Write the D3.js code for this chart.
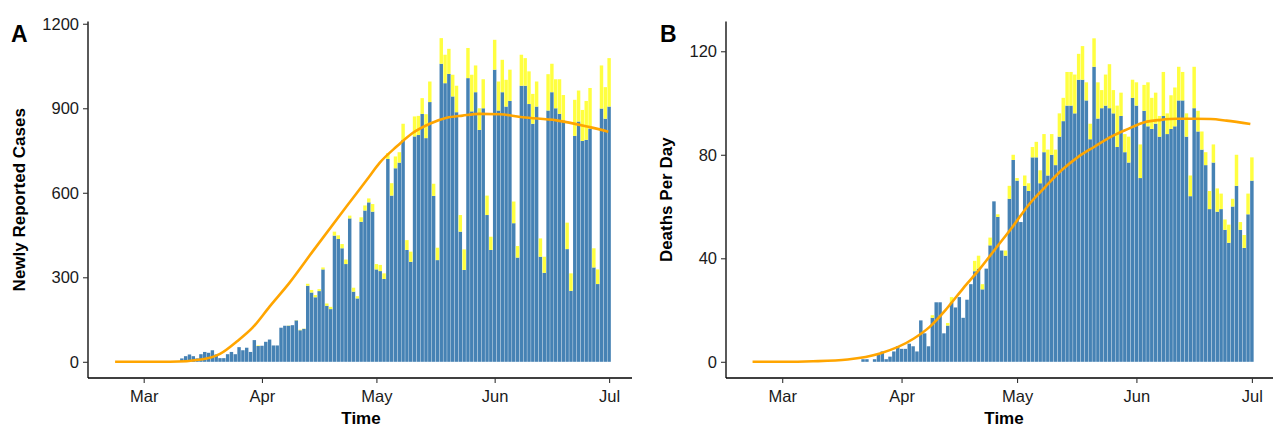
<!DOCTYPE html>
<html><head><meta charset="utf-8">
<script src="https://cdn.jsdelivr.net/npm/d3@7"></script>
<style>
body{margin:0;background:#fff}
svg{display:block}
text{font-family:"Liberation Sans",Arial,Helvetica,sans-serif}
</style>
</head><body>
<svg id="chart" width="1274" height="428"></svg>
<script>
// ---------- DATA ----------
// Panel A: newly reported cases, one bar per day starting 2020-03-11
const casesStart = "2020-03-11";
const casesReported = [
  12,20,26,20,12,27,35,32,41,26,13,13,27,35,27,52,41,50,35,77,56,57,71,79,58,58,
  121,128,128,130,147,112,117,270,246,229,251,328,199,187,448,436,403,347,509,249,225,497,537,566,533,328,322,294,
  720,590,687,707,788,397,355,800,805,880,794,922,589,361,1058,989,1022,942,886,462,326,1007,889,957,823,900,521,
  397,1037,892,957,906,926,492,370,980,980,915,845,906,373,316,892,957,900,880,857,400,252,802,853,784,788,828,335,276,899,863,906
];
const casesPending = [
  0,0,0,0,0,0,0,0,0,0,0,0,0,0,0,0,0,0,0,0,2,0,0,0,0,0,
  0,0,1,0,1,2,1,7,9,8,7,7,8,8,14,13,15,16,10,14,8,16,18,14,27,19,22,20,
  21,44,42,37,57,35,36,71,68,56,85,73,43,44,91,101,89,77,94,59,73,107,130,95,77,103,69,
  47,106,103,115,95,111,77,41,110,98,116,106,89,65,57,129,101,103,123,90,94,62,128,110,110,138,144,68,52,153,112,172
];
// smoothed trend (day offset from 2020-03-01, value)
const casesTrendDay   = [-7.5, 0, 6.9, 15.5, 20.0, 24.4, 28.6, 33.0, 38.3, 44.3, 53.2, 58.5, 61.9, 66.3, 70.5, 75.0, 79.4, 83.6, 88.1, 93.3, 99.3, 108.2, 116.9, 121.8];
const casesTrendValue = [0, 0, 0, 9, 28, 72, 122, 196, 282, 392, 552, 646, 707, 764, 812, 845, 866, 874, 880, 879, 868, 857, 833, 817];
const casesTicks = [0, 300, 600, 900, 1200];

// Panel B: deaths per day, one bar per day starting 2020-03-22
const deathsStart = "2020-03-22";
const deathsReported = [
  1,1,0,1,3,4,1,2,4,6,5,5,7,6,4,16,11,6,17,23,23,11,
  14,23,21,25,17,24,30,35,36,28,36,45,62,56,43,41,63,78,70,54,68,66,79,79,69,81,
  72,80,76,87,93,99,99,96,109,109,101,86,114,94,98,99,98,96,83,95,81,77,102,99,71,
  97,91,90,92,87,95,88,90,91,101,101,87,64,98,89,82,76,59,77,58,59,51,46,60,68,51,44,57,70
];
const deathsPending = [
  0,0,0,0,0,0,0,0,0,0,0,0,0,0,0,0,0,0,1,0,0,0,
  1,2,0,0,0,0,0,4,5,2,0,3,0,1,0,2,5,2,1,0,4,3,4,6,5,7,
  10,8,6,9,9,13,13,15,10,13,7,6,11,14,7,12,17,9,16,9,7,10,7,9,13,
  10,17,12,12,8,17,8,13,15,13,11,9,8,16,8,7,5,7,7,9,6,4,7,3,12,3,5,8,9
];
const deathsTrendDay   = [-7.7, 0, 8, 17.0, 25.4, 34.2, 38.3, 42.7, 47.0, 51.1, 55.5, 59.9, 64.0, 68.4, 72.7, 76.8, 81.2, 85.6, 89.7, 94.1, 98.4, 102.5, 106.9, 111.3, 115.4, 121.6];
const deathsTrendValue = [0, 0, 0.2, 0.9, 3.2, 9, 13.5, 20.5, 28.4, 35.5, 43.9, 52.3, 60.6, 67.7, 74.2, 79.1, 83.2, 87.1, 89.9, 92.6, 93.5, 93.9, 93.9, 93.8, 93.2, 91.9];
const deathsTicks = [0, 40, 80, 120];

// ---------- DRAW ----------
const svg = d3.select("#chart");
const DAY = 864e5;
const origin = Date.UTC(2020, 2, 1);
const toDate = d => new Date(origin + d * DAY);
const xDomain = [toDate(-14.6), toDate(128)];
const plotTop = 21.5, plotBottom = 378;
const blue = "#4682B4", yellow = "#FFFF40", orange = "#FFA500";

function panel(o) {
  const g = svg.append("g");
  const x = d3.scaleUtc().domain(xDomain).range([o.left, o.right]);
  const y = d3.scaleLinear().domain(o.yDomain).range([plotBottom, plotTop]);
  const start = new Date(o.start + "T00:00:00Z").getTime();
  const rows = o.reported.map((v, i) => ({
    date: new Date(start + i * DAY), blue: v, yellow: o.pending[i]
  }));
  const bw = (x(toDate(1)) - x(toDate(0))) * 0.9;

  g.append("g").selectAll("rect").data(rows).join("rect")
    .attr("x", d => x(d.date) - bw / 2).attr("width", bw)
    .attr("y", d => y(d.blue)).attr("height", d => y(0) - y(d.blue))
    .attr("fill", blue);
  g.append("g").selectAll("rect").data(rows.filter(d => d.yellow > 0)).join("rect")
    .attr("x", d => x(d.date) - bw / 2).attr("width", bw)
    .attr("y", d => y(d.blue + d.yellow)).attr("height", d => y(d.blue) - y(d.blue + d.yellow))
    .attr("fill", yellow);

  const trend = o.trendDay.map((d, i) => [toDate(d), o.trendValue[i]]);
  g.append("path").datum(trend)
    .attr("d", d3.line().x(d => x(d[0])).y(d => y(d[1])).curve(d3.curveMonotoneX))
    .attr("fill", "none").attr("stroke", orange).attr("stroke-width", 2.6);

  // axes
  const ya = g.append("g").attr("transform", `translate(${o.left},0)`)
    .call(d3.axisLeft(y).tickValues(o.ticks).tickSize(5).tickPadding(4).tickFormat(d3.format("d")));
  const xa = g.append("g").attr("transform", `translate(0,${plotBottom})`)
    .call(d3.axisBottom(x).ticks(d3.utcMonth.every(1)).tickSize(5).tickPadding(7).tickFormat(d3.utcFormat("%b")));
  [ya, xa].forEach(a => {
    a.select(".domain").attr("stroke", "#000").attr("stroke-width", 1.3);
    a.selectAll(".tick line").attr("stroke", "#333").attr("stroke-width", 1.1);
    a.selectAll(".tick text").attr("fill", "#1a1a1a").style("font-size", "16.5px");
  });
  ya.select(".domain").attr("d", `M0,${plotTop}V${plotBottom}`);
  xa.select(".domain").attr("d", `M${o.left},0H${Math.min(o.right, 1273)}`);

  g.append("text").attr("x", o.labelX).attr("y", 41.5)
    .style("font-size", "23px").style("font-weight", "bold").text(o.label);
  g.append("text").attr("transform", `translate(${o.titleX},${(plotTop + plotBottom) / 2}) rotate(-90)`)
    .attr("text-anchor", "middle").style("font-size", "17px").style("font-weight", "bold").text(o.yTitle);
  g.append("text").attr("x", o.timeX).attr("y", 424)
    .attr("text-anchor", "middle").style("font-size", "17px").style("font-weight", "bold").text("Time");
}

panel({
  left: 88, right: 632, yDomain: [-57.5, 1208], ticks: casesTicks,
  start: casesStart, reported: casesReported, pending: casesPending,
  trendDay: casesTrendDay, trendValue: casesTrendValue,
  label: "A", labelX: 11, yTitle: "Newly Reported Cases", titleX: 25, timeX: 361
});
panel({
  left: 726, right: 1275, yDomain: [-6.26, 131.5], ticks: deathsTicks,
  start: deathsStart, reported: deathsReported, pending: deathsPending,
  trendDay: deathsTrendDay, trendValue: deathsTrendValue,
  label: "B", labelX: 660, yTitle: "Deaths Per Day", titleX: 672, timeX: 1004
});
</script>
</body></html>
